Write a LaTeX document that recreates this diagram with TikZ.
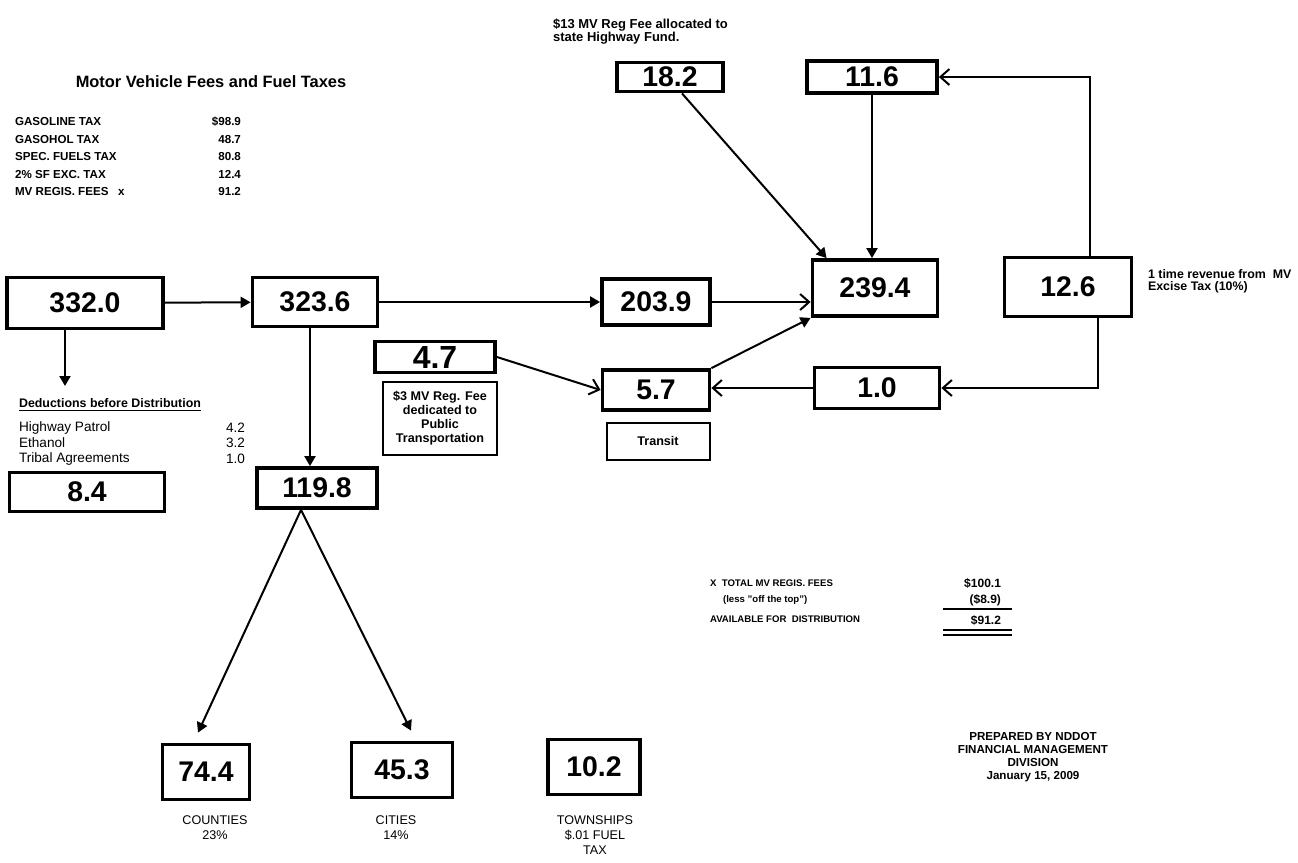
\documentclass[tikz,border=0pt]{standalone}
\usepackage{fontspec}
\setmainfont{Liberation Sans}
\usetikzlibrary{arrows.meta,calc}

\newcommand\numfont{\fontsize{14.2}{16}\selectfont\bfseries}
\newcommand\headfont{\fontsize{8.2}{10}\selectfont\bfseries}
\newcommand\capsfont{\fontsize{5.8}{7}\selectfont\bfseries}
\newcommand\notefont{\fontsize{6.5}{6.5}\selectfont\bfseries}
\newcommand\boxnotefont{\fontsize{6.3}{7}\selectfont\bfseries}
\newcommand\rowfont{\fontsize{6.8}{8}\selectfont}
\newcommand\labfont{\fontsize{6.3}{7.5}\selectfont}
\newcommand\totfont{\fontsize{4.8}{6}\selectfont\bfseries}
\newcommand\totvalfont{\fontsize{6}{7}\selectfont\bfseries}

\begin{document}
\begin{tikzpicture}[x=0.5pt,y=-0.5pt,
  valbox/.style={draw,line width=1.9pt,inner sep=0pt,font=\numfont},
  notebox/.style={draw,line width=1pt,inner sep=0pt,font=\boxnotefont,align=center},
  flow/.style={line width=1pt,-{Triangle[length=5pt,width=5.5pt]}},
  flowopen/.style={line width=1pt,-{Straight Barb[length=4.5pt,width=8pt,line width=1pt]}}]
\fill[white] (0,0) rectangle (1298,863);
\useasboundingbox (0,0) rectangle (1298,863);

% boxes with amounts
\foreach \nm/\x/\y/\w/\h/\val in {total/85/303/156/51/332.0, net/315/302/125/49/323.6,
  fuel/656/302/108/46/203.9, hwyfund/875/288/125/56/239.4, excise/1068/287/127/59/12.6,
  regfee/670/77/106/29/18.2, exhwy/872/77/130/32/11.6,
  transit/656/390/107/40/5.7, extr/877/388/125/41/1.0, deduct/87/492/155/39/8.4,
  local/317/488/120/40/119.8, counties/206/772/87/55/74.4, cities/402/770/101/55/45.3,
  towns/594/767/92/55/10.2}{
  \node[valbox,minimum width=\w*0.5pt,minimum height=\h*0.5pt] (\nm) at (\x,\y) {\val};
}
\node[valbox,minimum width=60pt,minimum height=15.5pt,font=\fontsize{16}{16}\selectfont\bfseries]
  (pubtr) at (435,357) {4.7};

% title and source table
\node[font=\headfont] (title) at (211,82) {Motor Vehicle Fees and Fuel Taxes};
\foreach \lab/\val [count=\i] in {GASOLINE TAX/\$98.9, GASOHOL TAX/48.7,
  SPEC. FUELS TAX/80.8, 2\% SF EXC. TAX/12.4, MV REGIS. FEES\ \ \ x/91.2}{
  \node[anchor=west,font=\capsfont] (src\i) at (8,{122+(\i-1)*17.5}) {\lab};
  \node[anchor=east,font=\capsfont] (amt\i) at (248,{122+(\i-1)*17.5}) {\val};
}

% deductions
\node[anchor=west,font=\fontsize{6.2}{7}\selectfont\bfseries] (dedhead) at (12,405)
  {\underline{Deductions before Distribution}};
\foreach \lab/\val/\y in {Highway Patrol/4.2/428, Ethanol/3.2/443, Tribal Agreements/1.0/459}{
  \node[anchor=west,font=\rowfont] at (12,\y) {\lab};
  \node[anchor=east,font=\rowfont] at (252,\y) {\val};
}
\coordinate (dedtip) at (65,386);

% notes
\node[anchor=north west,align=left,font=\notefont] (hfnote) at (546,12)
  {\$13 MV Reg Fee allocated to\\state Highway Fund.};
\node[anchor=west,align=left,font=\fontsize{6.2}{6.2}\selectfont\bfseries] (exnote) at (1141,281)
  {1 time revenue from\ \ MV\\Excise Tax (10\%)};
\node[notebox,minimum width=57pt,minimum height=36.5pt] (pubnote) at (440,418)
  {\$3 MV Reg. Fee\\dedicated to\\Public\\Transportation};
\node[notebox,minimum width=51.5pt,minimum height=18.5pt] (trlab) at (658,441) {Transit};

% labels under the bottom boxes
\node[anchor=north,align=center,font=\labfont] (cntlab) at (215,809) {COUNTIES\\23\%};
\node[anchor=north,align=center,font=\labfont] (citlab) at (396,809) {CITIES\\14\%};
\node[anchor=north,align=center,font=\labfont] (twnlab) at (595,809) {TOWNSHIPS\\\$.01 FUEL\\TAX};

% registration fee summary
\node[anchor=west,font=\totfont] (tot1) at (703,583) {X\ \ TOTAL MV REGIS. FEES};
\node[anchor=west,font=\totfont] (tot2) at (716,600) {(less "off the top")};
\node[anchor=west,font=\totfont] (tot3) at (703,619) {AVAILABLE FOR\ \ DISTRIBUTION};
\node[anchor=east,font=\totvalfont] (totv1) at (1008,583) {\$100.1};
\node[anchor=east,font=\totvalfont] (totv2) at (1008,600) {(\$8.9)};
\node[anchor=east,font=\totvalfont] (totv3) at (1008,620) {\$91.2};
\draw[line width=1pt] (943,609) -- (1012,609);
\draw[line width=1pt] (943,630) -- (1012,630) (943,635) -- (1012,635);

\node[align=center,font=\fontsize{5.8}{6.5}\selectfont\bfseries] (prep) at (1033,757)
  {PREPARED BY NDDOT\\FINANCIAL MANAGEMENT\\DIVISION\\January 15, 2009};

% flows
\draw[flow] (total) -- (net);
\draw[flow] (net.east) -- (net.east -| fuel.west);
\draw[flowopen] (fuel.east) -- (fuel.east -| hwyfund.west);
\draw[flow] ([xshift=6pt]regfee.south) -- ([xshift=8pt]hwyfund.north west);
\draw[flow] (exhwy.south) -- (exhwy.south |- hwyfund.north);
\draw[flow] (transit.north east) -- (hwyfund.south west);
\draw[flowopen] (pubtr.east) -- (transit.west);
\draw[flowopen] (extr.west) -- (extr.west -| transit.east);
\draw[flowopen] ([xshift=11pt]excise.north) |- (exhwy.east);
\draw[flowopen] ([xshift=15pt]excise.south) |- (extr.east);
\draw[flow] ([xshift=-10pt]total.south) -- (dedtip);
\draw[flow] ([xshift=-2.5pt]net.south) -- ([xshift=-2.5pt]net.south |- local.north);
\draw[flow] ([xshift=-8pt]local.south) -- ([xshift=-4pt,yshift=5pt]counties.north);
\draw[flow] ([xshift=-8pt]local.south) -- ([xshift=4.5pt,yshift=5pt]cities.north);
\end{tikzpicture}
\end{document}
